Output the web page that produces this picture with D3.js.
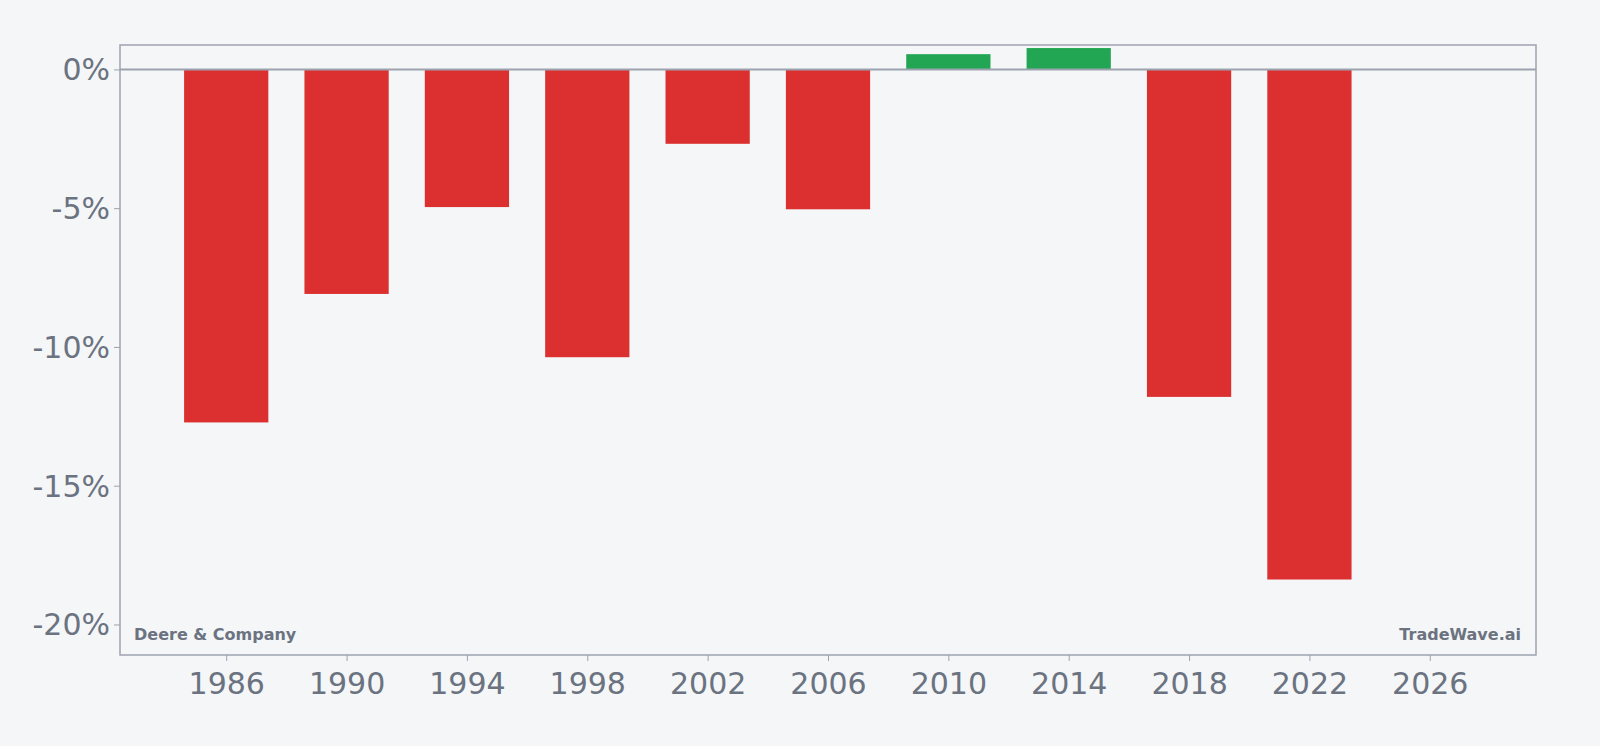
<!DOCTYPE html>
<html>
<head>
<meta charset="utf-8">
<script src="https://cdn.jsdelivr.net/npm/d3@7"></script>
<style>
  body { margin: 0; background: #f4f6f8; }
  text { font-family: "DejaVu Sans", sans-serif; }
</style>
</head>
<body>
<svg width="1600" height="746"></svg>
<script>
// data
var years = [1986, 1990, 1994, 1998, 2002, 2006, 2010, 2014, 2018, 2022];
var changes = [-12.72, -8.09, -4.96, -10.37, -2.68, -5.04, 0.55, 0.77, -11.8, -18.38];
var xTicks = [1986, 1990, 1994, 1998, 2002, 2006, 2010, 2014, 2018, 2022, 2026];
var yTicks = [0, -5, -10, -15, -20];

var plotLeft = 120, plotRight = 1536, plotTop = 45, plotBottom = 655;

var x = d3.scaleLinear().domain([1982.47, 2029.53]).range([plotLeft, plotRight]);
var y = d3.scaleLinear().domain([0.88, -21.1]).range([plotTop, plotBottom]);
var barW = x(1982.47 + 2.8) - x(1982.47);

var svg = d3.select('svg');
var textColor = '#6b7280';
var lineColor = '#9ca3af';

svg.append('rect')
    .attr('x', plotLeft).attr('y', plotTop)
    .attr('width', plotRight - plotLeft).attr('height', plotBottom - plotTop)
    .attr('fill', 'none').attr('stroke', lineColor).attr('stroke-width', 1.5);

svg.selectAll('rect.bar')
  .data(years)
  .enter()
  .append('rect')
    .attr('class', 'bar')
    .attr('x', (d) => x(d) - barW / 2)
    .attr('width', barW)
    .attr('y', (d, i) => y(Math.max(0, changes[i])))
    .attr('height', (d, i) => Math.abs(y(changes[i]) - y(0)))
    .attr('fill', (d, i) => changes[i] >= 0 ? '#22a654' : '#dc3030');

svg.append('line')
    .attr('x1', plotLeft).attr('x2', plotRight)
    .attr('y1', y(0)).attr('y2', y(0))
    .attr('stroke', lineColor).attr('stroke-width', 2);

var xAxis = d3.axisBottom(x).tickValues(xTicks).tickFormat(d3.format('d')).tickSize(6).tickSizeOuter(0);
var yAxis = d3.axisLeft(y).tickValues(yTicks).tickFormat(d => d + '%').tickSize(6).tickSizeOuter(0);

var gx = svg.append('g')
    .attr('transform', 'translate(0,' + plotBottom + ')')
    .call(xAxis);
var gy = svg.append('g')
    .attr('transform', 'translate(' + plotLeft + ',0)')
    .call(yAxis);

[gx, gy].forEach(function (g) {
  g.select('.domain').remove();
  g.selectAll('line').attr('stroke', lineColor);
  g.selectAll('text').attr('fill', textColor).style('font-size', '30px');
});
gx.selectAll('text').attr('dy', '1.0em');
gy.selectAll('text').attr('dy', '0.35em').attr('x', -10);

svg.append('text')
    .attr('x', 134).attr('y', 640)
    .attr('fill', textColor).style('font-size', '16px').style('font-weight', 'bold')
    .text('Deere & Company');

svg.append('text')
    .attr('x', 1521).attr('y', 640)
    .attr('text-anchor', 'end')
    .attr('fill', textColor).style('font-size', '16px').style('font-weight', 'bold')
    .text('TradeWave.ai');
</script>
</body>
</html>
